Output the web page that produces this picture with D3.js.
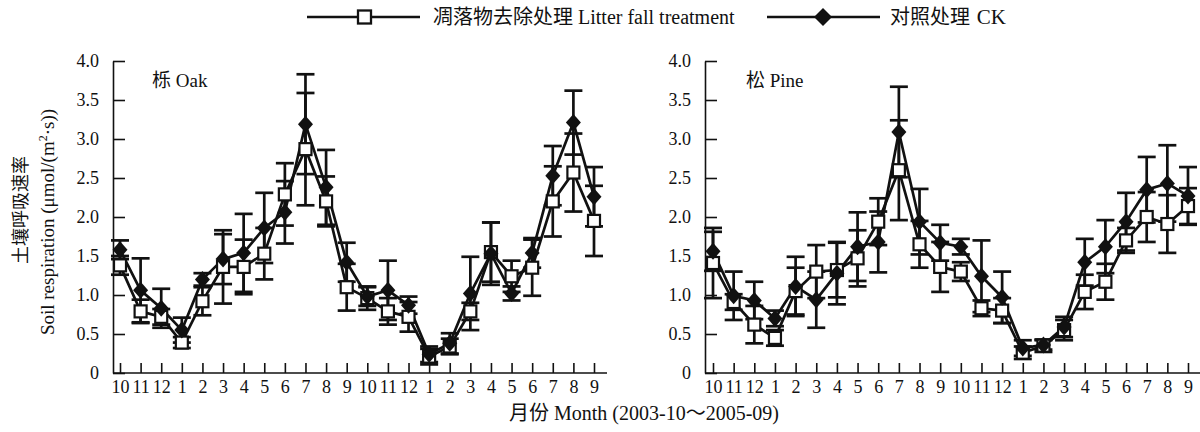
<!DOCTYPE html>
<html>
<head>
<meta charset="utf-8">
<script src="https://cdn.jsdelivr.net/npm/d3@7"></script>
<style>
  body { margin: 0; background: #fff; }
  svg { display: block; }
  text { font-family: "Liberation Serif", "Times New Roman", "Noto Sans CJK SC", serif; fill: #111; }
</style>
</head>
<body>
<svg id="chart" width="1200" height="432"></svg>
<script>
// Monthly sampling, Oct 2003 – Sep 2005
const months = ["10","11","12","1","2","3","4","5","6","7","8","9",
                "10","11","12","1","2","3","4","5","6","7","8","9"];

// Oak stand: litter-removal treatment (mean, SE)
const oakLitter    = [1.38,0.79,0.72,0.39,0.92,1.36,1.36,1.53,2.29,2.87,2.20,1.10,
                      0.96,0.79,0.72,0.21,0.34,0.79,1.55,1.24,1.35,2.20,2.57,1.95];
const oakLitterErr = [0.12,0.15,0.10,0.07,0.18,0.47,0.35,0.33,0.40,0.72,0.32,0.30,
                      0.15,0.17,0.19,0.10,0.10,0.11,0.38,0.20,0.36,0.45,0.50,0.45];
// Oak stand: control (CK)
const oakCK        = [1.58,1.06,0.83,0.55,1.20,1.46,1.54,1.86,2.06,3.19,2.38,1.42,
                      0.98,1.06,0.87,0.24,0.38,1.02,1.53,1.02,1.54,2.53,3.21,2.26];
const oakCKErr     = [0.12,0.41,0.25,0.16,0.08,0.32,0.50,0.45,0.40,0.64,0.48,0.25,
                      0.12,0.38,0.11,0.10,0.13,0.47,0.40,0.09,0.19,0.38,0.41,0.38];

// Pine stand: litter-removal treatment
const pineLitter    = [1.41,0.91,0.62,0.45,1.05,1.30,1.32,1.47,1.94,2.60,1.65,1.36,
                       1.30,0.83,0.80,0.26,0.35,0.55,1.04,1.17,1.70,2.00,1.91,2.14];
const pineLitterErr = [0.45,0.10,0.24,0.10,0.30,0.34,0.35,0.36,0.30,0.64,0.30,0.32,
                       0.12,0.10,0.16,0.08,0.08,0.13,0.22,0.23,0.16,0.32,0.37,0.23];
// Pine stand: control (CK)
const pineCK        = [1.56,0.99,0.93,0.70,1.11,0.94,1.28,1.62,1.68,3.09,1.94,1.67,
                       1.62,1.24,0.97,0.32,0.36,0.59,1.42,1.62,1.94,2.35,2.43,2.27];
const pineCKErr     = [0.25,0.31,0.24,0.10,0.38,0.36,0.40,0.44,0.39,0.58,0.42,0.23,
                       0.10,0.46,0.33,0.10,0.06,0.13,0.30,0.34,0.37,0.42,0.49,0.37];

const yTickValues = [0,0.5,1,1.5,2,2.5,3,3.5,4];
const yTickLabels = ["0","0.5","1.0","1.5","2.0","2.5","3.0","3.5","4.0"];

const svg = d3.select("#chart");
const y = d3.scaleLinear().domain([0, 4]).range([373, 61]);

const diamondPath = "M0,-8.5L7.5,0L0,8.5L-7.5,0Z";
const INK = "#111";
const SW = 2.7;

function drawPanel(opt) {
  const g = svg.append("g");
  const x = d3.scalePoint().domain(d3.range(months.length)).range([opt.first, opt.last]);

  // y axis, ticks pointing inward
  const ya = g.append("g")
    .attr("transform", `translate(${opt.axisX},0)`)
    .call(d3.axisLeft(y).tickValues(yTickValues)
      .tickFormat((d, i) => yTickLabels[i])
      .tickSizeInner(-12).tickSizeOuter(0).tickPadding(14));
  ya.selectAll("text").style("font-size", "18px").attr("fill", INK);

  // x axis, ticks pointing inward
  const xa = g.append("g")
    .attr("transform", `translate(0,${y(0)})`)
    .call(d3.axisBottom(x).tickFormat(i => months[i])
      .tickSizeInner(-10).tickSizeOuter(0).tickPadding(7));
  xa.select(".domain").remove();
  xa.append("line").attr("x1", opt.axisX).attr("x2", opt.axisEnd)
    .attr("stroke", INK).attr("stroke-width", 1.6);
  xa.selectAll("text").style("font-size", "18px").attr("fill", INK);
  g.selectAll(".tick line, .domain").attr("stroke", INK).attr("stroke-width", 1.6);

  const series = [
    { v: opt.litter, e: opt.litterErr },
    { v: opt.ck, e: opt.ckErr }
  ];

  // error bars (mean ± SE)
  series.forEach(s => {
    const eb = g.append("g").attr("stroke", INK).attr("stroke-width", SW).attr("fill", "none");
    s.v.forEach((v, i) => {
      const cx = x(i), yt = y(v + s.e[i]), yb = y(Math.max(0, v - s.e[i]));
      eb.append("line").attr("x1", cx).attr("x2", cx).attr("y1", yt).attr("y2", yb);
      eb.append("line").attr("x1", cx - 9).attr("x2", cx + 9).attr("y1", yt).attr("y2", yt);
      eb.append("line").attr("x1", cx - 9).attr("x2", cx + 9).attr("y1", yb).attr("y2", yb);
    });
  });

  // connecting lines
  const line = d3.line().x((d, i) => x(i)).y(d => y(d));
  series.forEach(s => {
    g.append("path").datum(s.v).attr("d", line)
      .attr("fill", "none").attr("stroke", INK).attr("stroke-width", SW);
  });

  // markers: open squares for litter removal, solid diamonds for CK
  g.append("g").selectAll("rect").data(opt.litter).join("rect")
    .attr("x", (d, i) => x(i) - 6).attr("y", d => y(d) - 6)
    .attr("width", 12).attr("height", 12)
    .attr("fill", "#fff").attr("stroke", INK).attr("stroke-width", 2.2);
  g.append("g").selectAll("path").data(opt.ck).join("path")
    .attr("d", diamondPath)
    .attr("transform", (d, i) => `translate(${x(i)},${y(d)})`)
    .attr("fill", INK);

  // stand label
  g.append("text").attr("x", opt.labelX).attr("y", 87)
    .style("font-size", "19px").text(opt.label);
}

drawPanel({ axisX: 113, axisEnd: 607, first: 120, last: 594,
  litter: oakLitter, litterErr: oakLitterErr, ck: oakCK, ckErr: oakCKErr,
  label: "栎 Oak", labelX: 152 });
drawPanel({ axisX: 705, axisEnd: 1200, first: 713, last: 1188,
  litter: pineLitter, litterErr: pineLitterErr, ck: pineCK, ckErr: pineCKErr,
  label: "松 Pine", labelX: 746 });

// legend
const lg = svg.append("g");
lg.append("line").attr("x1", 307).attr("x2", 420).attr("y1", 17).attr("y2", 17)
  .attr("stroke", INK).attr("stroke-width", SW);
lg.append("rect").attr("x", 358).attr("y", 10.5).attr("width", 13).attr("height", 13)
  .attr("fill", "#fff").attr("stroke", INK).attr("stroke-width", 2.3);
lg.append("text").attr("x", 433).attr("y", 24).style("font-size", "20px")
  .text("凋落物去除处理 Litter fall treatment");
lg.append("line").attr("x1", 767).attr("x2", 880).attr("y1", 17).attr("y2", 17)
  .attr("stroke", INK).attr("stroke-width", SW);
lg.append("path").attr("d", "M0,-9L9,0L0,9L-9,0Z").attr("transform", "translate(823,17)")
  .attr("fill", INK);
lg.append("text").attr("x", 890).attr("y", 24).style("font-size", "20px").text("对照处理");
lg.append("text").attr("x", 1006).attr("y", 24).attr("text-anchor", "end")
  .style("font-size", "21px").text("CK");

// axis titles
svg.append("text").attr("x", 644).attr("y", 420).attr("text-anchor", "middle")
  .style("font-size", "20px").text("月份 Month (2003-10～2005-09)");

svg.append("text").attr("transform", "translate(27,210) rotate(-90)")
  .attr("text-anchor", "middle").style("font-size", "18px").text("土壤呼吸速率");
const yt = svg.append("text").attr("transform", "translate(54,222) rotate(-90)")
  .attr("text-anchor", "middle").style("font-size", "19px");
yt.append("tspan").text("Soil respiration (μmol/(m");
yt.append("tspan").attr("baseline-shift", "super").style("font-size", "12px").text("2");
yt.append("tspan").text("·s))");
</script>
</body>
</html>
